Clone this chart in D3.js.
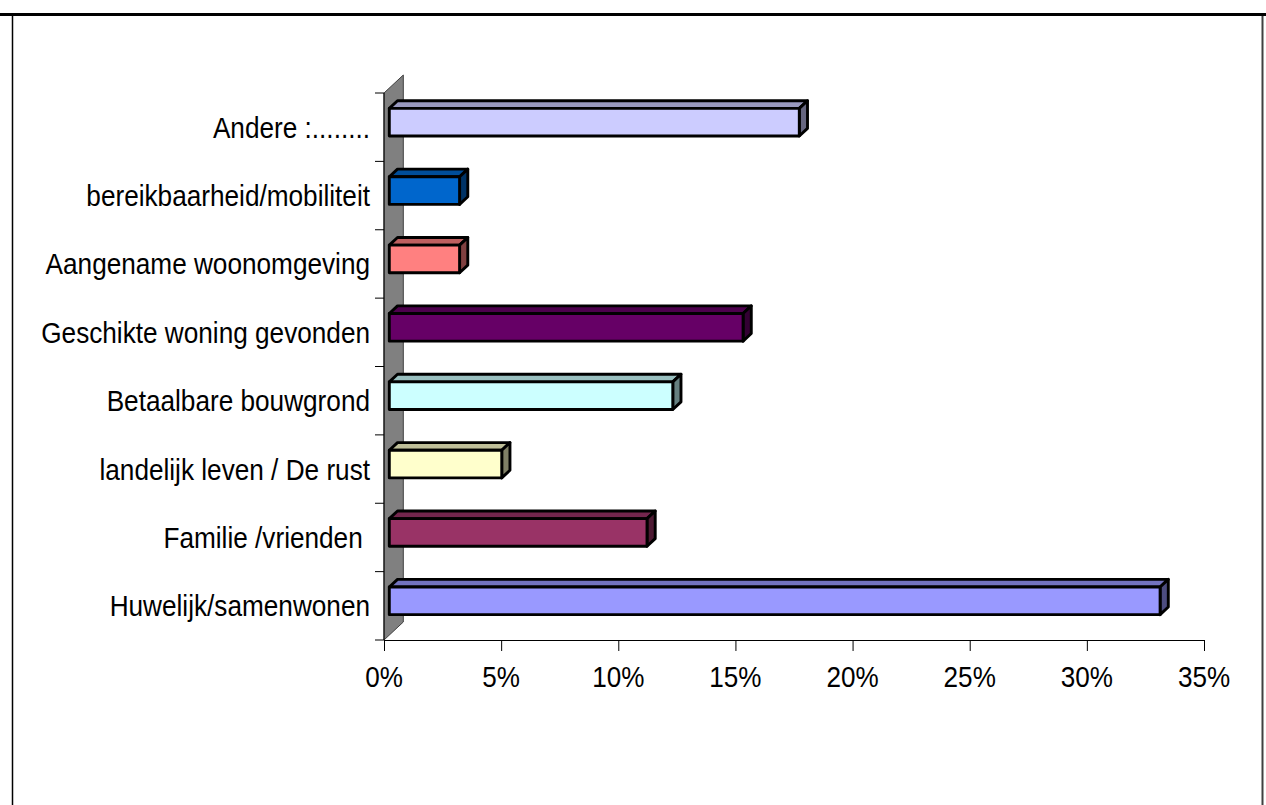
<!DOCTYPE html>
<html><head><meta charset="utf-8">
<script src="https://cdn.jsdelivr.net/npm/d3@7"></script>
<style>html,body{margin:0;padding:0;background:#fff;}svg{display:block;}</style>
</head><body>
<script>
// Data (bottom to top as shown in chart)
const categories = ["Huwelijk/samenwonen","Familie /vrienden ","landelijk leven / De rust","Betaalbare bouwgrond","Geschikte woning gevonden","Aangename woonomgeving","bereikbaarheid/mobiliteit","Andere :........"];
const values = [32.9, 11.0, 4.8, 12.1, 15.1, 3.0, 3.0, 17.5];
const colors = ["#9999FF","#993366","#FFFFCC","#CCFFFF","#660066","#FF8080","#0066CC","#CCCCFF"];
const tickValues = [0,5,10,15,20,25,30,35];

const W = 1266, H = 805;
const svg = d3.select("body").append("svg").attr("width", W).attr("height", H);

// borders
svg.append("line").attr("x1",0).attr("x2",W).attr("y1",14.5).attr("y2",14.5).attr("stroke","#000").attr("stroke-width",3);
svg.append("line").attr("x1",12.5).attr("x2",12.5).attr("y1",14).attr("y2",H).attr("stroke","#000").attr("stroke-width",1.5);
svg.append("line").attr("x1",1262.5).attr("x2",1262.5).attr("y1",16).attr("y2",H).attr("stroke","#404040").attr("stroke-width",2);

const x = d3.scaleLinear().domain([0,35]).range([384,1204]);
const y = d3.scaleBand().domain(categories.slice().reverse()).range([93,640]).padding(0);

const wallDx = 19.3, wallDy = -18;
const fx = 5.3, fy = -5;     // bar front offset in depth
const bdx = 8.2, bdy = -7.6; // bar depth
const barH = y.bandwidth()*0.405;

// wall
const y0 = y.range()[0], y1 = y.range()[1], xw = x(0);
svg.append("path")
  .attr("d", `M${xw},${y0}L${xw+wallDx},${y0+wallDy}L${xw+wallDx},${y1+wallDy}L${xw},${y1}Z`)
  .attr("fill","#808080").attr("stroke","#404040").attr("stroke-width",1);
svg.append("line").attr("x1",xw).attr("x2",xw).attr("y1",y0).attr("y2",y1).attr("stroke","#000").attr("stroke-width",1);

// category ticks
const bounds = categories.map(c => y(c)).concat([y1]);
svg.selectAll(".ctick").data(bounds).enter().append("line")
  .attr("x1", xw-9).attr("x2", xw).attr("y1", d=>d).attr("y2", d=>d)
  .attr("stroke","#000").attr("stroke-width",1);

// value axis
const axis = svg.append("g").attr("transform",`translate(0,${y1})`)
  .call(d3.axisBottom(x).tickValues(tickValues).tickSize(11).tickSizeOuter(0).tickFormat(d=>d+"%"));
axis.select(".domain").attr("stroke","#000").attr("stroke-width",1);
axis.selectAll(".tick line").attr("stroke","#000");
axis.selectAll(".tick text").remove();
svg.selectAll(".xlab").data(tickValues).enter().append("text")
  .attr("transform", d=>`translate(${x(d)},687) scale(0.9,1)`)
  .attr("text-anchor","middle")
  .attr("font-family","Liberation Sans, Arial, sans-serif").attr("font-size",29)
  .attr("fill","#000").text(d=>d+"%");

// bars
function shade(c,f){const r=d3.rgb(c);return d3.rgb(r.r*f,r.g*f,r.b*f).formatHex();}
const data = categories.map((c,i)=>({c, v:values[i], col:colors[i]}));
const g = svg.append("g");
data.forEach(d=>{
  const yc = y(d.c)+y.bandwidth()/2 + fy;
  const X0 = x(0)+fx, X1 = x(d.v)+fx, Y0 = yc-barH/2, Y1 = yc+barH/2;
  const common = s=>s.attr("stroke","#000").attr("stroke-width",2.9).attr("stroke-linejoin","round");
  common(g.append("path").attr("d",`M${X0},${Y0}L${X0+bdx},${Y0+bdy}L${X1+bdx},${Y0+bdy}L${X1},${Y0}Z`).attr("fill",shade(d.col,0.75)));
  common(g.append("path").attr("d",`M${X1},${Y0}L${X1+bdx},${Y0+bdy}L${X1+bdx},${Y1+bdy}L${X1},${Y1}Z`).attr("fill",shade(d.col,0.5)));
  common(g.append("rect").attr("x",X0).attr("y",Y0).attr("width",X1-X0).attr("height",Y1-Y0).attr("fill",d.col));
});

// category labels
svg.selectAll(".clab").data(categories).enter().append("text")
  .attr("transform", d=>`translate(370,${y(d)+y.bandwidth()/2+10.5}) scale(0.903,1)`)
  .attr("text-anchor","end")
  .style("white-space","pre")
  .attr("font-family","Liberation Sans, Arial, sans-serif").attr("font-size",29)
  .attr("fill","#000").text(d=>d);
</script>
</body></html>
